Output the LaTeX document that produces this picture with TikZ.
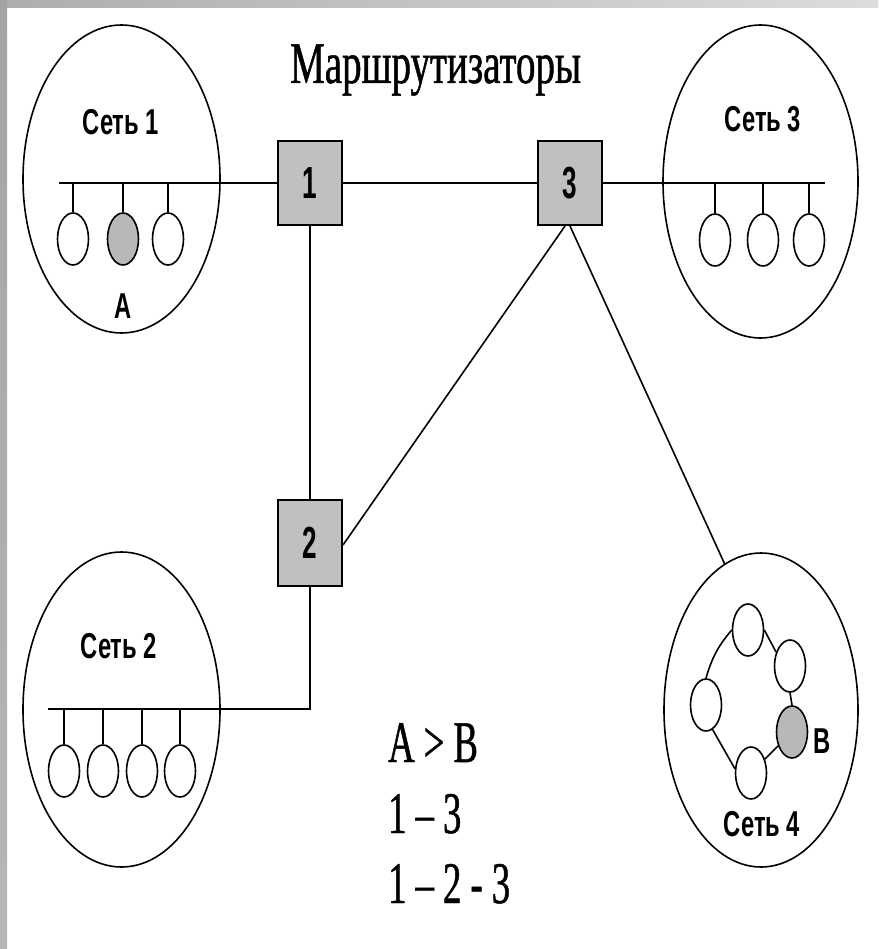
\documentclass[tikz,border=0pt]{standalone}
\usepackage{fontspec}
\usetikzlibrary{shapes.geometric}
\newfontfamily\netfont[FakeStretch=0.66]{Liberation Sans}
\newfontfamily\digfont[FakeStretch=0.58]{Liberation Sans}
\newfontfamily\titlefont[FakeStretch=0.66,FakeBold=0.8]{Liberation Serif}
\newfontfamily\notefont[FakeStretch=0.62,FakeBold=0.8]{Liberation Serif}
\definecolor{routergray}{HTML}{C0C0C0}
\definecolor{hostgray}{HTML}{B8B8B8}
\definecolor{framedark}{HTML}{A4A4A4}
\definecolor{framelight}{HTML}{DCDCDC}
\begin{document}
\begin{tikzpicture}[x=1pt,y=-1pt,
  router/.style={draw, line width=2pt, fill=routergray, minimum width=64pt, minimum height=84pt, inner sep=0pt,
    font=\digfont\bfseries\fontsize{45}{45}\selectfont},
  net/.style={draw, ellipse, line width=1.6pt, inner sep=0pt},
  host/.style={draw, ellipse, line width=1.6pt, minimum width=31pt, minimum height=52pt, inner sep=0pt, fill=white},
  hosta/.style={host, fill=hostgray},
  bus/.style={line width=2.5pt},
  link/.style={line width=1.6pt},
  lbl/.style={font=\netfont\bfseries\fontsize{36}{36}\selectfont, anchor=base, inner sep=0pt},
  ttl/.style={font=\titlefont\fontsize{59}{59}\selectfont, anchor=base west, inner sep=0pt},
  note/.style={font=\notefont\fontsize{59}{59}\selectfont, anchor=base west, inner sep=0pt}]
\useasboundingbox (0,0) rectangle (878,949);
\fill[white] (0,0) rectangle (878,949);
% frame
\shade[left color=framedark!90, right color=framelight] (0,0) rectangle (878,8);
\shade[top color=framedark, bottom color=framedark!80] (0,0) rectangle (7,949);

% title
\node[ttl] (title) at (290,83) {Маршрутизаторы};

% networks
\node[net, minimum width=197pt, minimum height=308pt] (n1) at (121.5,179) {};
\node[net, minimum width=195pt, minimum height=313pt] (n3) at (760.5,181.5) {};
\node[net, minimum width=197pt, minimum height=315pt] (n2) at (121.5,709.5) {};
\node[net, minimum width=194pt, minimum height=314pt] (n4) at (761,710) {};

\node[lbl] (l1) at (121,135) {Сеть 1};
\node[lbl] (l3) at (763,132) {Сеть 3};
\node[lbl] (l2) at (119,658) {Сеть 2};
\node[lbl] (l4) at (762,836) {Сеть 4};

% routers
\node[router] (r1) at (310,183) {1};
\node[router] (r3) at (570,183) {3};
\node[router, minimum height=86pt] (r2) at (310,543) {2};

% network 1
\coordinate (b1) at (59,183);
\node[host]  (h11) at (73,239) {};
\node[hosta] (h12) at (123,239) {};
\node[host]  (h13) at (168,239) {};
\draw[bus] (b1) -- (r1.west);
\foreach \h in {h11,h12,h13} \draw[link] (\h.north |- b1) -- (\h.north);
\node[lbl] (la) at (123,318) {A};

% network 3
\coordinate (b3) at (825,183);
\node[host] (h31) at (715,240) {};
\node[host] (h32) at (763,240) {};
\node[host] (h33) at (809,240) {};
\draw[bus] (r3.east) -- (b3);
\foreach \h in {h31,h32,h33} \draw[link] (\h.north |- b3) -- (\h.north);

% router links
\draw[bus] (r1.east) -- (r3.west);
\draw[link] (r1.south) -- (r2.north);
\draw[link] ([xshift=-5pt]r3.south) -- ([yshift=-2pt]r2.east);
\draw[link] (r3.south) -- (n4.104);

% network 2
\coordinate (b2) at (48,709);
\draw[bus] (r2.south) |- (b2);
\node[host] (h21) at (64,771) {};
\node[host] (h22) at (103,771) {};
\node[host] (h23) at (142,771) {};
\node[host] (h24) at (180,771) {};
\foreach \h in {h21,h22,h23,h24} \draw[link] (\h.north |- b2) -- (\h.north);

% network 4 ring
\node[host] (h41) at (748,630) {};
\node[host] (h42) at (790,666) {};
\node[host] (h43) at (706,705) {};
\node[hosta] (h44) at (792,732) {};
\node[host] (h45) at (751,773) {};
\draw[link] (h41.west) to[bend right=12] (h43.north);
\draw[link] (h41.east) -- (h42.135);
\draw[link] (h42.south) -- (h44.north);
\draw[link] (h44) -- (h45);
\draw[link] (h43.-75) -- (h45.165);
\node[lbl] (lb) at (822,753) {B};

% notes
\node[note] (t1) at (388,762) {A > B};
\node[note] (t2) at (388,833) {1 – 3};
\node[note] (t3) at (388,903) {1 – 2 - 3};
\end{tikzpicture}
\end{document}
